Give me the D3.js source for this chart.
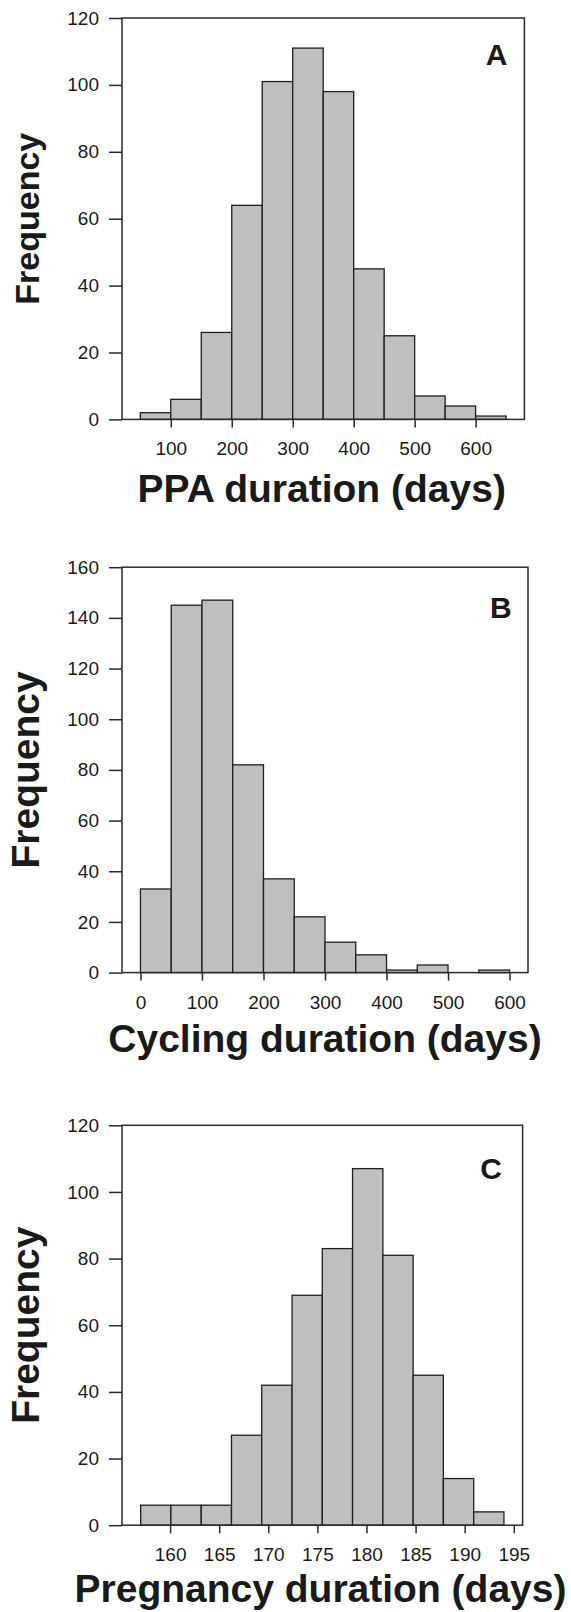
<!DOCTYPE html>
<html>
<head>
<meta charset="utf-8">
<script src="https://cdnjs.cloudflare.com/ajax/libs/d3/7.8.5/d3.min.js"></script>
<style>
  body { margin: 0; background: #fff; }
  svg text { font-family: "Liberation Sans", Arial, sans-serif; fill: #1a1a1a; }
</style>
</head>
<body>
<div id="my_hist_viz"></div>
<script>
// histogram data
var ppaBinEdges = [50, 100, 150, 200, 250, 300, 350, 400, 450, 500, 550, 600, 650]
var ppaCounts = [2, 6, 26, 64, 101, 111, 98, 45, 25, 7, 4, 1]
var ppaXTicks = [100, 200, 300, 400, 500, 600]
var ppaYTicks = [0, 20, 40, 60, 80, 100, 120]

var cycBinEdges = [0, 50, 100, 150, 200, 250, 300, 350, 400, 450, 500, 550, 600]
var cycCounts = [33, 145, 147, 82, 37, 22, 12, 7, 1, 3, 0, 1]
var cycXTicks = [0, 100, 200, 300, 400, 500, 600]
var cycYTicks = [0, 20, 40, 60, 80, 100, 120, 140, 160]

var pregBinEdges = [157, 160.08, 163.17, 166.25, 169.33, 172.42, 175.5, 178.58, 181.67, 184.75, 187.83, 190.92, 194]
var pregCounts = [6, 6, 6, 27, 42, 69, 83, 107, 81, 45, 14, 4]
var pregXTicks = [160, 165, 170, 175, 180, 185, 190, 195]
var pregYTicks = [0, 20, 40, 60, 80, 100, 120]

var svg = d3.select("#my_hist_viz")
  .append("svg")
    .attr("width", 571)
    .attr("height", 1612)

// one panel = one framed histogram
var drawPanel = function(p) {
  var x = d3.scaleLinear().domain(p.xDomain).range([p.left, p.right])
  var y = d3.scaleLinear().domain(p.yDomain).range([p.bottom, p.top])

  var g = svg.append("g")

  // bars
  var bins = p.counts.map(function(c, i) {
    return {x0: p.edges[i], x1: p.edges[i + 1], n: c}
  })
  g.selectAll("rect.bar")
    .data(bins.filter(function(d) { return d.n > 0 }))
    .enter()
    .append("rect")
      .attr("class", "bar")
      .attr("x", function(d) { return x(d.x0) })
      .attr("width", function(d) { return x(d.x1) - x(d.x0) })
      .attr("y", function(d) { return y(d.n) })
      .attr("height", function(d) { return y(0) - y(d.n) })
      .attr("fill", "#bfbfbf")
      .attr("stroke", "#1e1e1e")
      .attr("stroke-width", 1.3)

  // frame
  g.append("rect")
    .attr("x", p.left)
    .attr("y", p.top)
    .attr("width", p.right - p.left)
    .attr("height", p.bottom - p.top)
    .attr("fill", "none")
    .attr("stroke", "#2a2a2a")
    .attr("stroke-width", 1.5)

  // X axis
  var xAxis = g.append("g")
    .attr("transform", "translate(0," + p.bottom + ")")
    .call(d3.axisBottom(x).tickValues(p.xTicks).tickSize(8).tickSizeOuter(0).tickPadding(14.5))
  // Y axis
  var yAxis = g.append("g")
    .attr("transform", "translate(" + p.left + ",0)")
    .call(d3.axisLeft(y).tickValues(p.yTicks).tickSize(13).tickSizeOuter(0).tickPadding(10))

  ;[xAxis, yAxis].forEach(function(a) {
    a.select(".domain").remove()
    a.selectAll("line").attr("stroke", "#2a2a2a").attr("stroke-width", 1.5)
    a.selectAll("text")
      .attr("fill", "#222")
      .style("font-size", "19px")
  })

  // axis titles
  g.append("text")
    .attr("x", p.xTitleX)
    .attr("y", p.xTitleY)
    .attr("text-anchor", "middle")
    .style("font-size", "39px")
    .style("font-weight", "bold")
    .text(p.xTitle)

  g.append("text")
    .attr("transform", "translate(38.5," + ((p.top + p.bottom) / 2) + ")rotate(-90)")
    .attr("text-anchor", "middle")
    .style("font-size", p.yTitleSize + "px")
    .style("font-weight", "bold")
    .text("Frequency")

  // panel letter
  g.append("text")
    .attr("x", p.right - p.letterInset)
    .attr("y", p.letterY)
    .attr("text-anchor", "end")
    .style("font-size", "30px")
    .style("font-weight", "bold")
    .text(p.letter)
}

drawPanel({
  left: 122, right: 524.4, top: 18, bottom: 419.4,
  xDomain: [20, 680], yDomain: [0, 120],
  edges: ppaBinEdges, counts: ppaCounts, xTicks: ppaXTicks, yTicks: ppaYTicks,
  xTitle: "PPA duration (days)", xTitleX: 321.7, xTitleY: 501.7, yTitleSize: 34,
  letter: "A", letterInset: 17, letterY: 64.5
})

drawPanel({
  left: 122, right: 528, top: 567.2, bottom: 972.6,
  xDomain: [-30, 630], yDomain: [0, 160],
  edges: cycBinEdges, counts: cycCounts, xTicks: cycXTicks, yTicks: cycYTicks,
  xTitle: "Cycling duration (days)", xTitleX: 325, xTitleY: 1051.7, yTitleSize: 39,
  letter: "B", letterInset: 16.4, letterY: 618
})

drawPanel({
  left: 122, right: 522.6, top: 1125.3, bottom: 1525.2,
  xDomain: [155.1, 195.9], yDomain: [0, 120],
  edges: pregBinEdges, counts: pregCounts, xTicks: pregXTicks, yTicks: pregYTicks,
  xTitle: "Pregnancy duration (days)", xTitleX: 320.5, xTitleY: 1602.3, yTitleSize: 39,
  letter: "C", letterInset: 20.8, letterY: 1178.5
})
</script>
</body>
</html>
